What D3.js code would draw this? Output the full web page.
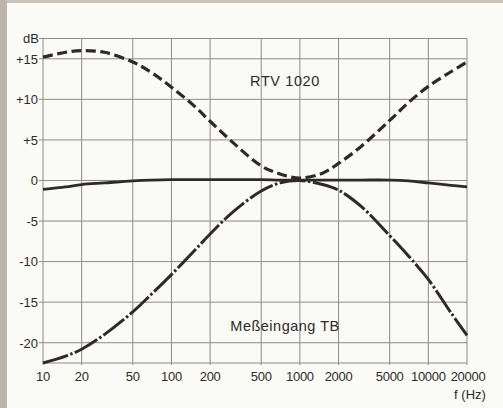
<!DOCTYPE html>
<html>
<head>
<meta charset="utf-8">
<script src="https://cdn.jsdelivr.net/npm/d3@7"></script>
<style>
html,body{margin:0;padding:0;background:#fafaf7;}
svg{display:block;}
</style>
</head>
<body>
<svg id="chart" width="503" height="408"></svg>
<script>
// ---- data ----
const freqs = [10, 15, 20, 30, 50, 70, 100, 150, 200, 300, 500, 700, 1000, 1500, 2000, 3000, 5000, 7000, 10000, 15000, 20000];
const rtv1020 = [15.2, 15.8, 16.0, 15.8, 14.6, 13.3, 11.5, 9.2, 7.3, 4.7, 1.8, 0.8, 0.3, 0.9, 2.1, 4.2, 7.4, 9.6, 11.6, 13.4, 14.6];
const messeingangTB = [-22.5, -21.65, -20.8, -19.0, -16.2, -14.0, -11.6, -8.7, -6.6, -3.9, -1.3, -0.3, 0.0, -0.5, -1.2, -3.2, -6.8, -9.3, -12.2, -16.3, -19.1];
const flat = [-1.1, -0.8, -0.5, -0.3, -0.05, 0.05, 0.1, 0.1, 0.1, 0.1, 0.1, 0.05, 0.05, 0.05, 0.05, 0.05, 0.05, -0.05, -0.3, -0.6, -0.8];
const xTicks = [10, 20, 50, 100, 200, 500, 1000, 2000, 5000, 10000, 20000];
const yTicks = [15, 10, 5, 0, -5, -10, -15, -20];
const yTickLabels = ["+15", "+10", "+5", "0", "-5", "-10", "-15", "-20"];
const yLabel = "dB";
const xLabel = "f (Hz)";
const labelRTV = "RTV 1020";
const labelTB = "Meßeingang TB";

// ---- layout ----
const svg = d3.select("#chart");
const L = 43, R = 467, T = 38.5, B = 363;
const x = d3.scaleLog().domain([10, 20000]).range([L, R]);
const y = d3.scaleLinear().domain([-22.5, 17.5]).range([B, T]);
const ink = "#2f2a27";
const gridC = "#8e8a86";
const font = "'Liberation Sans', Arial, sans-serif";

// photo edges
svg.append("rect").attr("x", 0).attr("y", 0).attr("width", 503).attr("height", 408).attr("fill", "#fafaf7");
svg.append("rect").attr("x", 0).attr("y", 0).attr("width", 503).attr("height", 3).attr("fill", "#cbc2ba");
svg.append("rect").attr("x", 0).attr("y", 0).attr("width", 7).attr("height", 408).attr("fill", "#bcb3aa");

// grid
const g = svg.append("g");
g.selectAll("line.v").data(xTicks).enter().append("line")
  .attr("x1", d => x(d)).attr("x2", d => x(d))
  .attr("y1", T).attr("y2", B + 2)
  .attr("stroke", gridC).attr("stroke-width", 1);
g.selectAll("line.h").data(yTicks).enter().append("line")
  .attr("x1", L - 4).attr("x2", R)
  .attr("y1", d => y(d)).attr("y2", d => y(d))
  .attr("stroke", gridC).attr("stroke-width", 1);
g.append("line").attr("x1", L - 4).attr("x2", R).attr("y1", T).attr("y2", T).attr("stroke", gridC).attr("stroke-width", 1);
g.append("line").attr("x1", L).attr("x2", R).attr("y1", B).attr("y2", B).attr("stroke", gridC).attr("stroke-width", 1);

// y tick labels
svg.selectAll("text.yl").data(yTicks).enter().append("text")
  .attr("x", 38).attr("y", d => y(d) + 4.8)
  .attr("text-anchor", "end").attr("font-family", font).attr("font-size", 13)
  .attr("fill", ink).text((d, i) => yTickLabels[i]);
svg.append("text").attr("x", 39).attr("y", T + 4)
  .attr("text-anchor", "end").attr("font-family", font).attr("font-size", 13)
  .attr("fill", ink).text(yLabel);

// x tick labels
svg.selectAll("text.xl").data(xTicks).enter().append("text")
  .attr("x", d => x(d) + (d === 20000 ? 1 : 0)).attr("y", 381)
  .attr("text-anchor", "middle").attr("font-family", font).attr("font-size", 13)
  .attr("letter-spacing", -0.3)
  .attr("fill", ink).text(d => d);
svg.append("text").attr("x", 470).attr("y", 399)
  .attr("text-anchor", "middle").attr("font-family", font).attr("font-size", 13)
  .attr("fill", ink).text(xLabel);

// curves
const line = vals => d3.line()
  .x((d, i) => x(freqs[i]))
  .y(d => y(d))
  .curve(d3.curveCatmullRom.alpha(0.5))(vals);

svg.append("path").attr("d", line(flat))
  .attr("fill", "none").attr("stroke", ink).attr("stroke-width", 2.8);
svg.append("path").attr("d", line(rtv1020))
  .attr("fill", "none").attr("stroke", ink).attr("stroke-width", 3.2)
  .attr("stroke-dasharray", "10,4.5");
svg.append("path").attr("d", line(messeingangTB))
  .attr("fill", "none").attr("stroke", ink).attr("stroke-width", 3)
  .attr("stroke-dasharray", "26,2.5,2.5,2.5");

// curve labels
svg.append("text").attr("x", 285).attr("y", 86)
  .attr("text-anchor", "middle").attr("font-family", font).attr("font-size", 14.5)
  .attr("letter-spacing", 0.6)
  .attr("fill", ink).text(labelRTV);
svg.append("text").attr("x", 285).attr("y", 331)
  .attr("text-anchor", "middle").attr("font-family", font).attr("font-size", 14.5)
  .attr("letter-spacing", 0.5)
  .attr("fill", ink).text(labelTB);
</script>
</body>
</html>
